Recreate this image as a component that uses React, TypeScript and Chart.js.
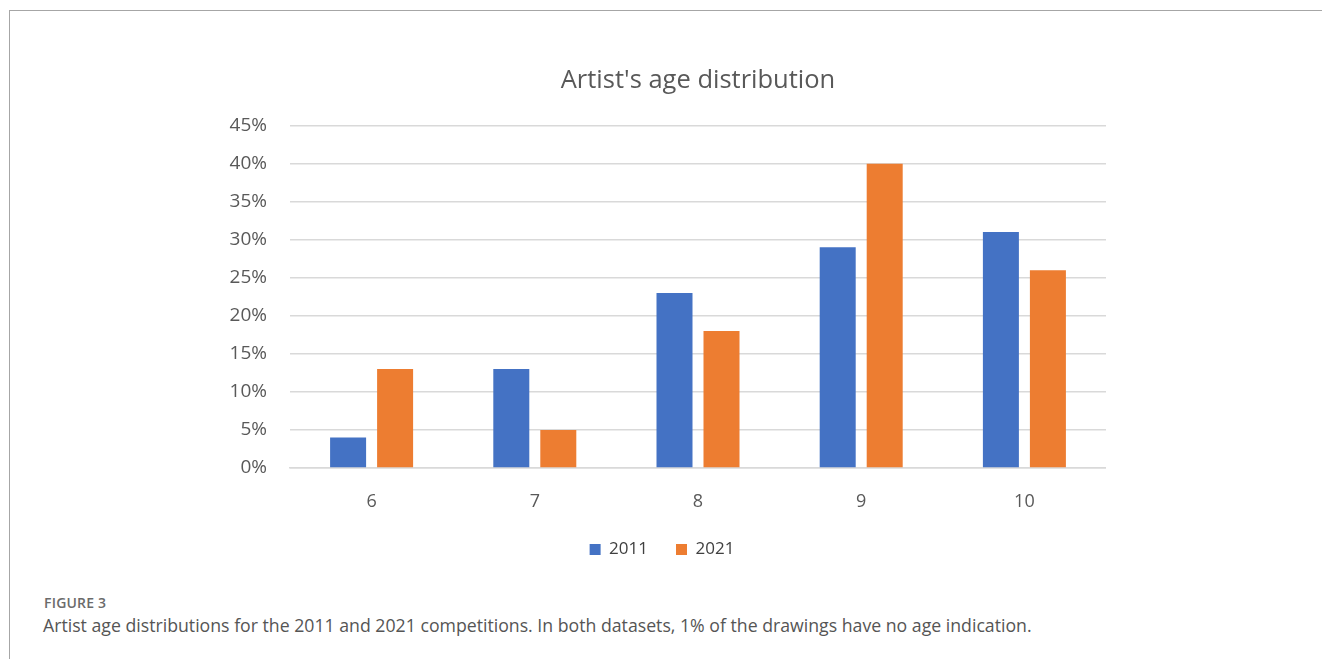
import React, { useEffect, useRef } from "react";
import { Chart, registerables } from "chart.js";

Chart.register(...registerables);

const categories = ["6", "7", "8", "9", "10"];
const series2011 = [4, 13, 23, 29, 31];
const series2021 = [13, 5, 18, 40, 26];
const yTicks = [0, 5, 10, 15, 20, 25, 30, 35, 40, 45];
const titleText = "Artist's age distribution";
const figureLabel = "FIGURE 3";
const captionText =
  "Artist age distributions for the 2011 and 2021 competitions. In both datasets, 1% of the drawings have no age indication.";

export default function App() {
  const canvasRef = useRef<HTMLCanvasElement | null>(null);

  useEffect(() => {
    const canvas = canvasRef.current;
    if (!canvas) return;
    const chart = new Chart(canvas, {
      type: "bar",
      data: {
        labels: categories,
        datasets: [
          {
            label: "2011",
            data: series2011,
            backgroundColor: "#4472C4",
            borderWidth: 0,
            categoryPercentage: 0.576,
            barPercentage: 0.766,
          },
          {
            label: "2021",
            data: series2021,
            backgroundColor: "#ED7D31",
            borderWidth: 0,
            categoryPercentage: 0.576,
            barPercentage: 0.766,
          },
        ],
      },
      options: {
        animation: false,
        responsive: false,
        maintainAspectRatio: false,
        layout: { padding: 0 },
        plugins: {
          title: {
            display: true,
            text: titleText,
            fullSize: false,
            color: "#595959",
            font: { family: "'Open Sans'", size: 25.5, weight: "normal" },
            padding: { top: 25, bottom: 30 },
          },
          legend: {
            display: true,
            position: "bottom",
            labels: {
              boxWidth: 11,
              boxHeight: 11,
              padding: 28,
              color: "#404040",
              font: { family: "'Open Sans'", size: 17 },
            },
          },
          tooltip: { enabled: false },
        },
        scales: {
          x: {
            afterFit: (scale: any) => {
              scale.height = 45;
            },
            grid: { display: false, drawTicks: false },
            border: { display: true, color: "#D9D9D9", width: 1.5 },
            ticks: {
              color: "#595959",
              padding: 23,
              font: { family: "'Open Sans'", size: 18 },
            },
          },
          y: {
            min: 0,
            max: 45,
            afterFit: (scale: any) => {
              scale.width = 72;
            },
            afterBuildTicks: (scale: any) => {
              scale.ticks = yTicks.map((v) => ({ value: v }));
            },
            grid: { color: "#D9D9D9", lineWidth: 1.5, drawTicks: false },
            border: { display: false },
            ticks: {
              color: "#595959",
              padding: 23,
              font: { family: "'Open Sans'", size: 19 },
              callback: (v: any) => v + "%",
            },
          },
        },
      },
    });
    return () => chart.destroy();
  }, []);

  return (
    <div
      style={{
        position: "fixed",
        left: 0,
        top: 0,
        width: 1322,
        height: 659,
        overflow: "hidden",
        background: "#fff",
      }}
    >
      <div
        style={{
          position: "absolute",
          left: 9,
          top: 10,
          width: 1400,
          height: 700,
          borderTop: "1.5px solid #a6a6a6",
          borderLeft: "1.5px solid #a6a6a6",
        }}
      />
      <canvas
        ref={canvasRef}
        width={888}
        height={528}
        style={{ position: "absolute", left: 218, top: 40, width: 888, height: 528 }}
      />
      <div
        style={{
          position: "absolute",
          left: 44,
          top: 593,
          fontFamily: "'Open Sans', sans-serif",
          fontSize: 14,
          fontWeight: 600,
          color: "#6b6b6b",
          letterSpacing: 0.2,
        }}
      >
        {figureLabel}
      </div>
      <div
        style={{
          position: "absolute",
          left: 43,
          top: 613,
          fontFamily: "'Open Sans', sans-serif",
          fontSize: 17.7,
          color: "#555",
          whiteSpace: "nowrap",
        }}
      >
        {captionText}
      </div>
    </div>
  );
}
